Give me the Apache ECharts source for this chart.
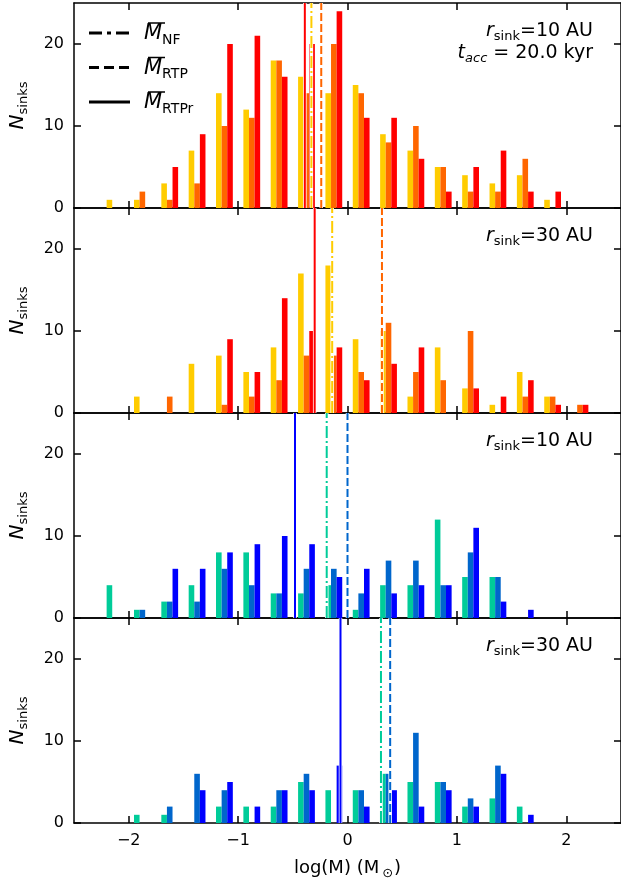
<!DOCTYPE html>
<html><head><meta charset="utf-8">
<script src="https://cdn.jsdelivr.net/npm/echarts@6/dist/echarts.min.js"></script>
<style>html,body{margin:0;padding:0;background:#fff}#c{width:621px;height:883px}</style>
</head><body><div id="c"></div>
<script>
// bin centres in log(M)
const binCenters = [-2.125,-1.875,-1.625,-1.375,-1.125,-0.875,-0.625,-0.375,-0.125,0.125,0.375,0.625,0.875,1.125,1.375,1.625,1.875,2.125];
// panel 1: r_sink = 10 AU (warm colours)
const p1_NF   = [1,1,3,7,14,12,18,16,14,15,9,7,5,4,3,4,1,0];
const p1_RTP  = [0,2,1,3,10,11,18,14,20,14,8,10,5,2,2,6,0,0];
const p1_RTPr = [0,0,5,9,20,21,16,20,24,11,11,6,2,5,7,2,2,0];
// panel 2: r_sink = 30 AU (warm colours)
const p2_NF   = [0,2,0,6,7,5,8,17,18,9,10,2,8,3,1,5,2,0];
const p2_RTP  = [0,0,2,0,1,2,4,7,7,5,11,5,4,10,0,2,2,1];
const p2_RTPr = [0,0,0,0,9,5,14,10,8,4,6,8,0,3,2,4,1,1];
// panel 3: r_sink = 10 AU (cool colours)
const p3_NF   = [4,1,2,4,8,8,3,3,4,1,4,4,12,5,5,0,0,0];
const p3_RTP  = [0,1,2,2,6,4,3,6,6,3,7,7,4,8,5,0,0,0];
const p3_RTPr = [0,0,6,6,8,9,10,9,5,6,3,4,4,11,2,1,0,0];
// panel 4: r_sink = 30 AU (cool colours)
const p4_NF   = [0,1,1,0,2,2,2,5,4,4,6,5,5,2,3,2,0,0];
const p4_RTP  = [0,0,2,6,4,0,4,6,0,4,6,11,5,3,7,0,0,0];
const p4_RTPr = [0,0,0,4,5,2,4,4,7,2,4,2,4,2,6,1,0,0];
// mean log masses [NF, RTP, RTPr]
const mean1 = [-0.33, -0.24, -0.39];
const mean2 = [-0.14, 0.315, -0.30];
const mean3 = [-0.19, 0.0, -0.48];
const mean4 = [0.306, 0.39, -0.064];
// tick labels
const xTicks = [-2, -1, 0, 1, 2];
const yTicks = [0, 10, 20];
const panelLabels = ['=10 AU', '=30 AU', '=10 AU', '=30 AU'];

const warm = ['#FFCC00', '#FF6600', '#FF0000'];
const cool = ['#00CC99', '#0066CC', '#0000FF'];
const FONT = 'DejaVu Sans';

const panels = [
  {data: [p1_NF, p1_RTP, p1_RTPr], mean: mean1, col: warm},
  {data: [p2_NF, p2_RTP, p2_RTPr], mean: mean2, col: warm},
  {data: [p3_NF, p3_RTP, p3_RTPr], mean: mean3, col: cool},
  {data: [p4_NF, p4_RTP, p4_RTPr], mean: mean4, col: cool}
];

const GL = 73, GW = 550, GT = 3, GH = 205;
const grid = [], xAxis = [], yAxis = [], series = [], graphic = [];
const tickStyle = {show: true, inside: true, length: 7, lineStyle: {color: '#000', width: 1.5}};
const lineStyleAx = {show: true, onZero: false, lineStyle: {color: '#000', width: 1.5}};
const dashes = [[12, 3, 2, 3], [8, 3], 'solid'];

panels.forEach((p, k) => {
  grid.push({left: GL, top: GT + k * GH, width: GW, height: GH});
  const last = k === 3;
  xAxis.push({
    type: 'value', gridIndex: k, min: -2.5, max: 2.5, position: 'bottom',
    axisLine: lineStyleAx, splitLine: {show: false},
    axisTick: Object.assign({customValues: xTicks}, tickStyle),
    axisLabel: {show: last, customValues: xTicks, color: '#000', fontFamily: FONT, fontSize: 16, margin: 10,
      formatter: v => String(v).replace('-', '\u2212')},
    name: last ? '{a|log(M) (M}{s|\u2299}{a|)}' : '', nameLocation: 'middle', nameGap: 33,
    nameTextStyle: {rich: {
      a: {fontFamily: FONT, fontSize: 18, color: '#000', lineHeight: 24},
      s: {fontFamily: FONT, fontSize: 13, color: '#000', lineHeight: 12, verticalAlign: 'bottom', padding: [0, 1, 0, 3]}
    }}
  });
  xAxis.push({
    type: 'value', gridIndex: k, min: -2.5, max: 2.5, position: 'top',
    axisLine: lineStyleAx, splitLine: {show: false},
    axisTick: Object.assign({customValues: xTicks}, tickStyle),
    axisLabel: {show: false}
  });
  yAxis.push({
    type: 'value', gridIndex: k, min: 0, max: 25, position: 'left',
    axisLine: lineStyleAx, splitLine: {show: false},
    axisTick: Object.assign({customValues: yTicks}, tickStyle),
    axisLabel: {customValues: yTicks, color: '#000', fontFamily: FONT, fontSize: 16, margin: 10},
    name: '{n|N}{s|sinks}', nameLocation: 'middle', nameRotate: 90, nameGap: 44,
    nameTextStyle: {rich: {
      n: {fontFamily: FONT, fontStyle: 'italic', fontSize: 20, color: '#000', lineHeight: 24},
      s: {fontFamily: FONT, fontSize: 13, color: '#000', lineHeight: 12, verticalAlign: 'bottom'}
    }}
  });
  yAxis.push({
    type: 'value', gridIndex: k, min: 0, max: 25, position: 'right',
    axisLine: lineStyleAx, splitLine: {show: false},
    axisTick: Object.assign({customValues: yTicks}, tickStyle),
    axisLabel: {show: false}
  });
  p.data.forEach((arr, j) => {
    series.push({
      type: 'bar', xAxisIndex: 2 * k, yAxisIndex: 2 * k,
      data: binCenters.map((x, i) => [x, arr[i]]),
      barWidth: 5.6, barGap: '0%', itemStyle: {color: p.col[j]}, silent: true
    });
  });
  p.mean.forEach((m, j) => {
    const d = [[m, 0], [m, 25]];
    series.push({type: 'line', xAxisIndex: 2 * k, yAxisIndex: 2 * k, data: d, symbol: 'none', z: 5,
      lineStyle: {color: '#fff', width: 3.5}, silent: true});
    series.push({type: 'line', xAxisIndex: 2 * k, yAxisIndex: 2 * k, data: d, symbol: 'none', z: 6,
      lineStyle: {color: p.col[j], width: 2, type: dashes[j]}, silent: true});
  });
  graphic.push({
    type: 'text', right: 28, top: GT + k * GH + 19, z: 10,
    style: {
      text: '{i|r}{s|sink}{n|' + panelLabels[k] + '}',
      rich: {
        i: {fontFamily: FONT, fontStyle: 'italic', fontSize: 19, fill: '#000', lineHeight: 24},
        s: {fontFamily: FONT, fontSize: 13, fill: '#000', lineHeight: 12, verticalAlign: 'bottom'},
        n: {fontFamily: FONT, fontSize: 19, fill: '#000', lineHeight: 24}
      }
    }
  });
});

graphic.push({
  type: 'text', right: 28, top: 44, z: 10,
  style: {
    text: '{i|t}{s|acc}{n| = 20.0 kyr}',
    rich: {
      i: {fontFamily: FONT, fontStyle: 'italic', fontSize: 19, fill: '#000', lineHeight: 24},
      s: {fontFamily: FONT, fontStyle: 'italic', fontSize: 13, fill: '#000', lineHeight: 12, verticalAlign: 'bottom'},
      n: {fontFamily: FONT, fontSize: 19, fill: '#000', lineHeight: 24}
    }
  }
});

// legend for mean lines
const legendNames = ['NF', 'RTP', 'RTPr'];
const legendDash = [[13, 5, 4, 5], [10, 5], null];
legendNames.forEach((nm, j) => {
  const y = 33 + j * 34.5;
  graphic.push({type: 'line', z: 10, shape: {x1: 89, y1: y, x2: 130, y2: y},
    style: {stroke: '#000', lineWidth: 3, lineDash: legendDash[j]}});
  graphic.push({type: 'text', z: 10, x: 144, y: y - 12,
    style: {
      text: '{m|M}{s|' + nm + '}',
      rich: {
        m: {fontFamily: FONT, fontStyle: 'italic', fontSize: 21, fill: '#000', lineHeight: 26},
        s: {fontFamily: FONT, fontSize: 14, fill: '#000', lineHeight: 13, verticalAlign: 'bottom'}
      }
    }});
  graphic.push({type: 'line', z: 10, shape: {x1: 148, y1: y - 10, x2: 165, y2: y - 10},
    style: {stroke: '#000', lineWidth: 1.5}});
});

const chart = echarts.init(document.getElementById('c'), null, {renderer: 'canvas'});
chart.setOption({animation: false, backgroundColor: '#fff', grid, xAxis, yAxis, series, graphic});
</script></body></html>
